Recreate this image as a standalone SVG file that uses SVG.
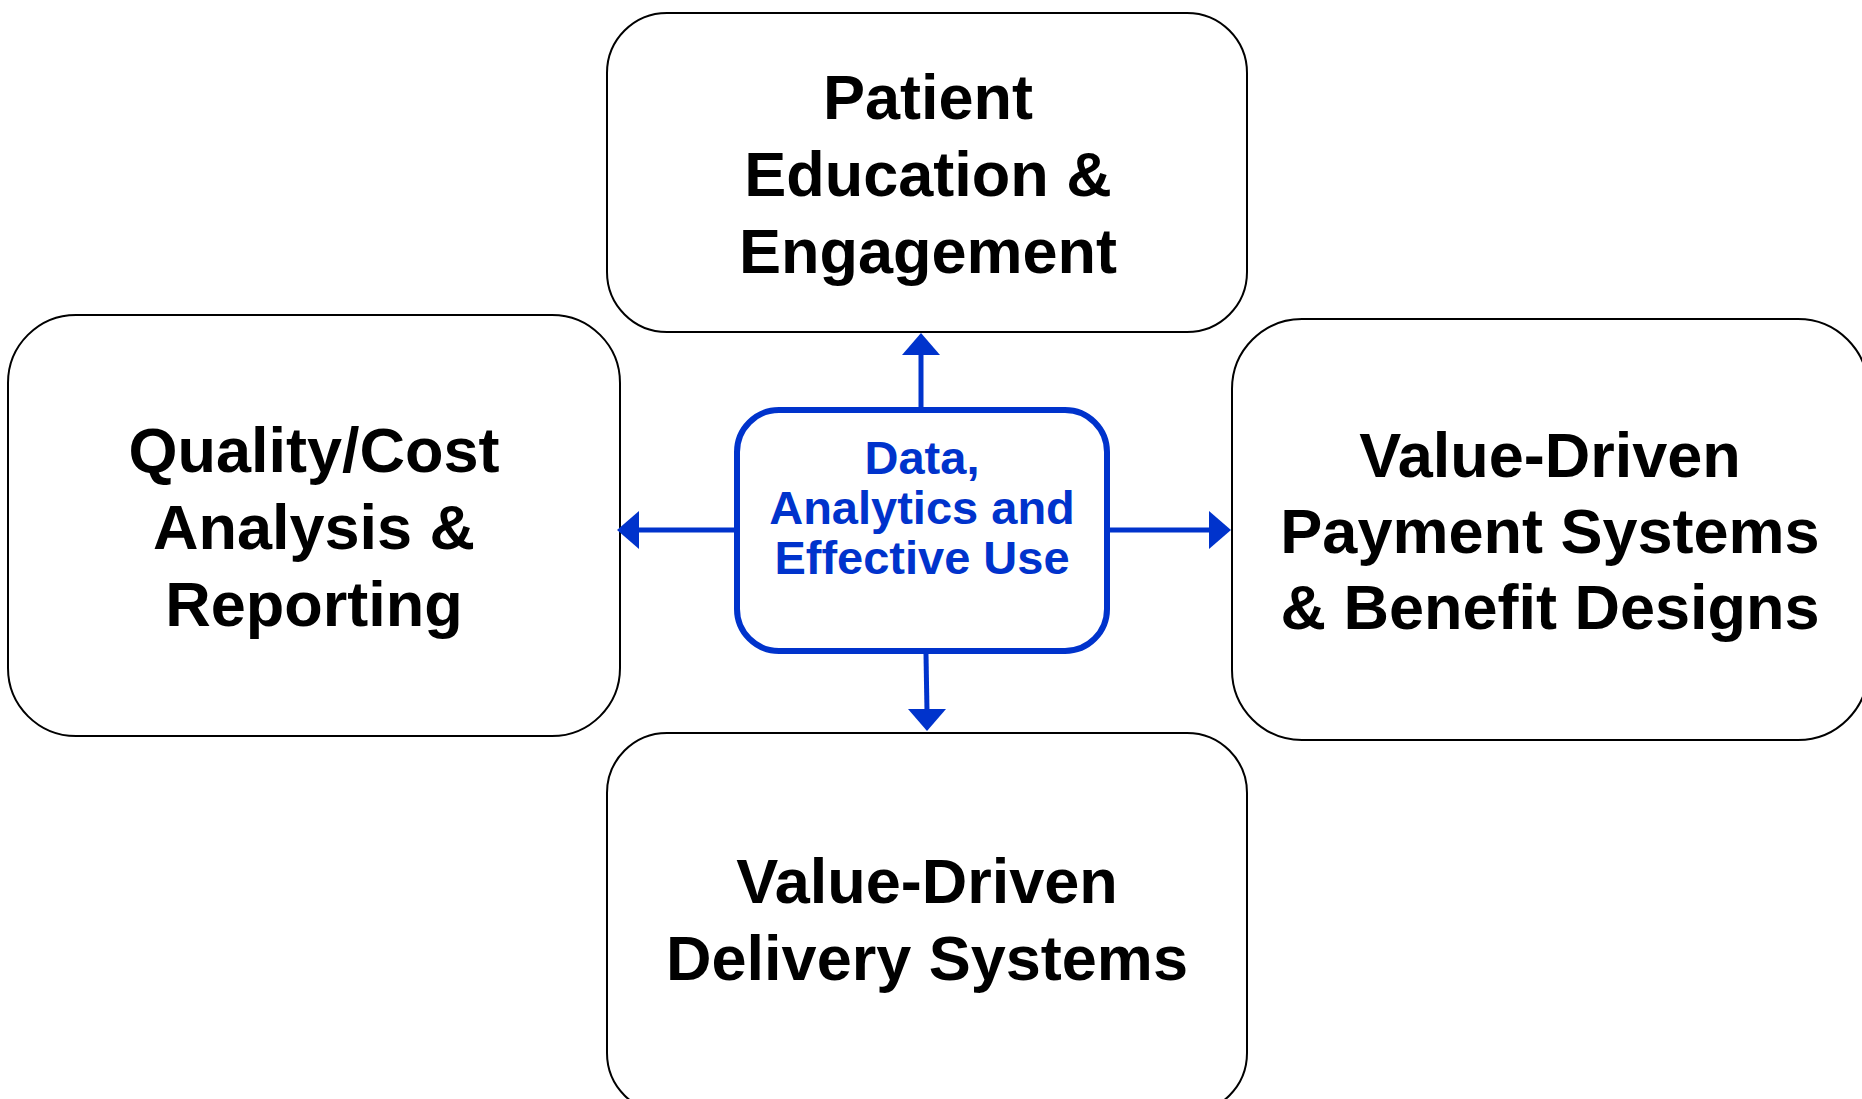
<svg xmlns="http://www.w3.org/2000/svg" width="1862" height="1099" viewBox="0 0 1862 1099">
<defs>
<style>
.box{fill:#ffffff;stroke:#000000;stroke-width:2}
.core{fill:#ffffff;stroke:#0033cc;stroke-width:6}
.t{font-family:"Liberation Sans",Arial,sans-serif;font-weight:bold;font-size:63px;fill:#000000;text-anchor:middle}
.c{font-family:"Liberation Sans",Arial,sans-serif;font-weight:bold;font-size:47px;fill:#0033cc;text-anchor:middle}
.ln{stroke:#0033cc;stroke-width:5;fill:none}
.hd{fill:#0033cc}
</style>
</defs>
<rect width="1862" height="1099" fill="#ffffff"/>
<g id="node-top">
<rect class="box" x="607" y="13" width="640" height="319" rx="60" ry="60"/>
<text class="t" x="928" y="119">Patient</text>
<text class="t" x="928" y="196">Education &amp;</text>
<text class="t" x="928" y="273">Engagement</text>
</g>
<g id="node-left">
<rect class="box" x="8" y="315" width="612" height="421" rx="68" ry="68"/>
<text class="t" x="314" y="472">Quality/Cost</text>
<text class="t" x="314" y="549">Analysis &amp;</text>
<text class="t" x="314" y="626">Reporting</text>
</g>
<g id="node-right">
<rect class="box" x="1232" y="319" width="636" height="421" rx="70" ry="70"/>
<text class="t" x="1550" y="477">Value-Driven</text>
<text class="t" x="1550" y="553">Payment Systems</text>
<text class="t" x="1550" y="629">&amp; Benefit Designs</text>
</g>
<g id="node-bottom">
<rect class="box" x="607" y="733" width="640" height="380" rx="60" ry="60"/>
<text class="t" x="927" y="903">Value-Driven</text>
<text class="t" x="927" y="980">Delivery Systems</text>
</g>
<g id="node-center">
<rect class="core" x="737" y="410" width="370" height="241" rx="42" ry="42"/>
<text class="c" x="922" y="474">Data,</text>
<text class="c" x="922" y="524">Analytics and</text>
<text class="c" x="922" y="574">Effective Use</text>
</g>
<g id="connectors">
<line class="ln" x1="921" y1="407" x2="921" y2="352"/>
<polygon class="hd" points="921,333 902,355 940,355"/>
<line class="ln" x1="926" y1="654" x2="927" y2="712"/>
<polygon class="hd" points="927,731 908,709 946,709"/>
<line class="ln" x1="734" y1="530" x2="636" y2="530"/>
<polygon class="hd" points="617,530 639,511 639,549"/>
<line class="ln" x1="1110" y1="530" x2="1212" y2="530"/>
<polygon class="hd" points="1231,530 1209,511 1209,549"/>
</g>
</svg>
